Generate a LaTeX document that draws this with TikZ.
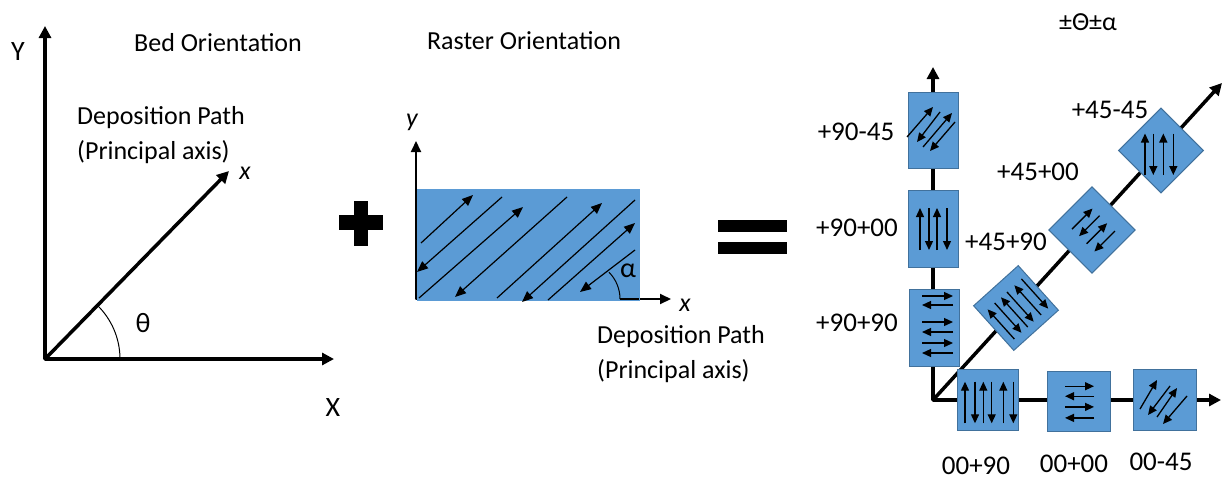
\documentclass[tikz,border=0pt]{standalone}
\usepackage{fontspec}
\setmainfont{Carlito}
\usetikzlibrary{arrows.meta}
\definecolor{tileblue}{HTML}{5B9BD5}
\definecolor{tileedge}{HTML}{41719C}
\begin{document}
\begin{tikzpicture}[x=1pt,y=-1pt,
  bigaxis/.style={line width=3.5pt, line join=round, {Triangle[length=12pt,width=12pt]}-{Triangle[length=12pt,width=12pt]}},
  onearrow/.style={line width=3.5pt, -{Triangle[length=12pt,width=12pt]}},
  midaxis/.style={line width=2pt, line join=round, {Triangle[length=11pt,width=10pt]}-{Triangle[length=11pt,width=10pt]}},
  rarr/.style={line width=1.2pt, -{Triangle[length=11pt,width=9pt]}},
  tarr/.style={line width=1.3pt, -{Triangle[length=9pt,width=8pt]}},
  lbl/.style={font=\fontsize{26}{30}\selectfont, inner sep=0pt},
  numlbl/.style={font=\fontsize{27}{30}\selectfont, inner sep=0pt},
  biglbl/.style={font=\fontsize{28}{32}\selectfont, inner sep=0pt},
  tile/.style={fill=tileblue, draw=tileedge, line width=1pt, inner sep=0pt}
]
\useasboundingbox (0,0) rectangle (1225,480);

% ---------- Bed orientation ----------
\coordinate (LO) at (45,359);
\coordinate (LY) at (45,26);
\coordinate (LX) at (334,359);
\coordinate (Lx) at (229,171);
\draw[bigaxis] (LY) -- (LO) -- (LX);
\draw[onearrow] (LO) -- (Lx);
\draw[line width=1pt] (LO) ++(75,0) arc[start angle=0,end angle=-46,radius=75];
\node[lbl] (bed) at (218,43) {Bed Orientation};
\node[lbl,anchor=west] (dp1) at (77,118) {Deposition Path};
\node[lbl,anchor=west] (pa1) at (77,152) {(Principal axis)};
\node[biglbl] (Ylab) at (18,52) {Y};
\node[biglbl] (Xlab) at (333,408) {X};
\node[lbl] (xlab1) at (245,173) {\itshape x};
\node[biglbl] (theta) at (143,323) {θ};

% ---------- plus ----------
\fill (339,215) rectangle (383,230);
\fill (354,201) rectangle (368,246);

% ---------- Raster orientation ----------
\coordinate (RO) at (416,299);
\coordinate (Ry) at (416,141);
\coordinate (Rx) at (671,299);
\draw[midaxis] (Ry) -- (RO) -- (Rx);
\node[tile, draw=none, minimum width=223pt, minimum height=112pt, anchor=north west] (raster) at (416,188) {};
\draw[rarr] (421,243) -- (473,195);
\draw[rarr] (502,197) -- (417,272);
\draw[rarr] (419,298) -- (523,207);
\draw[rarr] (567,197) -- (455,297);
\draw[rarr] (497,298) -- (602,203);
\draw[rarr] (635,200) -- (522,302);
\draw[rarr] (548,300) -- (635,223);
\draw[rarr] (635,250) -- (580,292);
\draw[line width=2pt] (620,299) -- (639,299);
\draw[line width=1pt] (582,299) ++(38,0) arc[start angle=0,end angle=-45,radius=38];
\node[biglbl] (alpha) at (628,271) {α};
\node[lbl] (ras) at (524,41) {Raster Orientation};
\node[lbl] (ylab2) at (412,122) {\itshape y};
\node[lbl] (xlab2) at (685,305) {\itshape x};
\node[lbl,anchor=west] (dp2) at (597,337) {Deposition Path};
\node[lbl,anchor=west] (pa2) at (597,371) {(Principal axis)};

% ---------- equals ----------
\fill (718,220) rectangle (787,232);
\fill (718,242) rectangle (787,254);

% ---------- combined ----------
\coordinate (CO) at (933,400);
\coordinate (CT) at (933,67);
\coordinate (CR) at (1221,400);
\coordinate (CD) at (1222,83);
\draw[bigaxis] (CT) -- (CO) -- (CR);
\draw[onearrow] (CO) -- (CD);

\node[tile, minimum width=50pt, minimum height=76pt] (v1) at (933,130) {};
\node[tile, minimum width=50pt, minimum height=77pt] (v2) at (933,228.5) {};
\node[tile, minimum width=50pt, minimum height=77pt] (v3) at (934,327.5) {};
\node[tile, minimum width=61pt, minimum height=61pt] (h1) at (987.5,399.5) {};
\node[tile, minimum width=63pt, minimum height=60pt] (h2) at (1078.5,401) {};
\node[tile, minimum width=63pt, minimum height=61pt] (h3) at (1164.5,399.5) {};
\node[tile, minimum width=60pt, minimum height=60pt, rotate=42] (d3) at (1016,308) {};
\node[tile, minimum width=61pt, minimum height=61pt, rotate=45] (d2) at (1092,230) {};
\node[tile, minimum width=60pt, minimum height=60pt, rotate=45] (d1) at (1161,150.5) {};

% v1 : +90-45
\begin{scope}[shift={(v1.center)}]
  \draw[tarr] (-26,7) -- (0,-23);
  \draw[tarr] (7,-18) -- (-16,12);
  \draw[tarr] (-10,17) -- (19,-17);
  \draw[tarr] (22,-8) -- (-3,21);
\end{scope}
% v2 : +90+00
\begin{scope}[shift={(v2.center)}]
  \draw[tarr] (-13,21.5) -- (-13,-20.5);
  \draw[tarr] (-4,-20.5) -- (-4,21.5);
  \draw[tarr] (4,21.5) -- (4,-20.5);
  \draw[tarr] (14,-20.5) -- (14,21.5);
\end{scope}
% v3 : +90+90
\begin{scope}[shift={(v3.center)}]
  \draw[tarr] (-12,-31.5) -- (19,-31.5);
  \draw[tarr] (19,-22.5) -- (-12,-22.5);
  \draw[tarr] (-12,-5.5) -- (19,-5.5);
  \draw[tarr] (19,4.5) -- (-12,4.5);
  \draw[tarr] (-12,15.5) -- (19,15.5);
  \draw[tarr] (19,25.5) -- (-12,25.5);
\end{scope}
% h1 : 00+90
\begin{scope}[shift={(h1.center)}]
  \draw[tarr] (-22.5,23.8) -- (-22.5,-17.8);
  \draw[tarr] (-12.5,-17.8) -- (-12.5,23.8);
  \draw[tarr] (-4.2,23.8) -- (-4.2,-17.8);
  \draw[tarr] (4.2,-17.8) -- (4.2,23.8);
  \draw[tarr] (15.8,23.8) -- (15.8,-17.8);
  \draw[tarr] (25.8,-17.8) -- (25.8,23.8);
\end{scope}
% h2 : 00+00
\begin{scope}[shift={(h2.center)}]
  \draw[tarr] (-13.5,-14.8) -- (15.5,-14.8);
  \draw[tarr] (15.5,-4.8) -- (-13.5,-4.8);
  \draw[tarr] (-13.5,5.9) -- (15.5,5.9);
  \draw[tarr] (15.5,16.9) -- (-13.5,16.9);
\end{scope}
% h3 : 00-45
\begin{scope}[shift={(h3.center)}]
  \draw[tarr] (-24.5,9.5) -- (-7.5,-19.5);
  \draw[tarr] (5.5,-13.5) -- (-16.5,15.5);
  \draw[tarr] (-7.5,17.5) -- (12.5,-11.5);
  \draw[tarr] (22.5,-3.5) -- (-1.5,24.5);
\end{scope}
% d3 : +45+90
\begin{scope}[shift={(d3.center)}, rotate=42]
  \draw[tarr] (-22,22) -- (-22,-18);
  \draw[tarr] (-12.5,-18) -- (-12.5,22);
  \draw[tarr] (-4,22) -- (-4,-18);
  \draw[tarr] (4,-18) -- (4,22);
  \draw[tarr] (14,22) -- (14,-18);
  \draw[tarr] (23.5,-18) -- (23.5,22);
\end{scope}
% d2 : +45+00
\begin{scope}[shift={(d2.center)}, rotate=45]
  \draw[tarr] (-13.5,-14.8) -- (15.5,-14.8);
  \draw[tarr] (15.5,-4.8) -- (-13.5,-4.8);
  \draw[tarr] (-13.5,5.9) -- (15.5,5.9);
  \draw[tarr] (15.5,16.9) -- (-13.5,16.9);
\end{scope}
% d1 : +45-45
\begin{scope}[shift={(d1.center)}]
  \draw[tarr] (-16,24.5) -- (-16,-17);
  \draw[tarr] (-7.7,-17) -- (-7.7,24.5);
  \draw[tarr] (2.3,24.5) -- (2.3,-17);
  \draw[tarr] (12.3,-17) -- (12.3,24.5);
\end{scope}

\node[lbl] (title) at (1088,22) {±Θ±α};
\node[numlbl] (l9045) at (856,132) {+90-45};
\node[numlbl] (l9000) at (857,228) {+90+00};
\node[numlbl] (l9090) at (857,323) {+90+90};
\node[numlbl] (l4545) at (1110,110) {+45-45};
\node[numlbl] (l4500) at (1038,172) {+45+00};
\node[numlbl] (l4590) at (1006,242) {+45+90};
\node[numlbl] (l0090) at (976,466) {00+90};
\node[numlbl] (l0000) at (1074,464) {00+00};
\node[numlbl] (l0045) at (1161,462) {00-45};
\end{tikzpicture}
\end{document}
